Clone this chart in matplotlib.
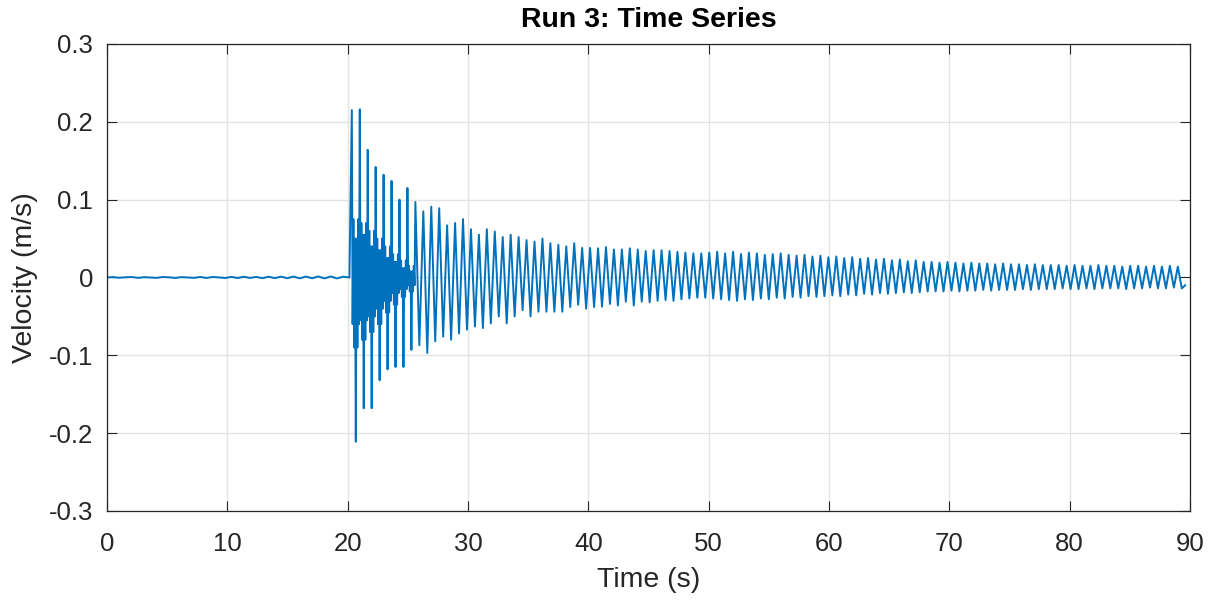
import numpy as np
import matplotlib
matplotlib.use("Agg")
import matplotlib.pyplot as plt

plt.rcParams['font.family'] = ['Liberation Sans', 'DejaVu Sans']
plt.rcParams['axes.unicode_minus'] = False

# quiet record before the hit (m/s), evenly spaced from 0 s to pre_end
pre_end = 20.15
pre_v = [0.0000, 0.0005, -0.0004, 0.0003, 0.0006, -0.0005, 0.0004, 0.0000, -0.0005, 0.0006,
         0.0002, -0.0006, 0.0005, 0.0000, -0.0005, 0.0007, -0.0006, 0.0006, 0.0001, -0.0007,
         0.0008, -0.0007, 0.0009, -0.0006, 0.0008, -0.0009, 0.0010, -0.0008, 0.0011, -0.0010,
         0.0012, -0.0011, 0.0012, -0.0010, 0.0013, -0.0012, 0.0013, -0.0012, 0.0010, 0.0000]

# ringing after the hit: one upper and one lower peak per cycle
t_first = 20.35
period = 0.66
peak_hi = [0.215, 0.216, 0.164, 0.142, 0.132, 0.124, 0.100, 0.115, 0.097, 0.085,
           0.091, 0.089, 0.067, 0.070, 0.075, 0.062, 0.055, 0.062, 0.059, 0.052,
           0.055, 0.052, 0.048, 0.046, 0.050, 0.044, 0.042, 0.040, 0.044, 0.038,
           0.038,
           0.0375, 0.039, 0.036, 0.036, 0.0375, 0.036, 0.034, 0.035, 0.035, 0.034,
           0.033, 0.032, 0.031, 0.031, 0.032, 0.033,
           0.031, 0.033, 0.030, 0.032, 0.031, 0.029, 0.030, 0.031, 0.029, 0.028,
           0.029, 0.027, 0.028, 0.026, 0.027, 0.025, 0.026, 0.024, 0.025, 0.023,
           0.024, 0.022, 0.023, 0.021, 0.022, 0.020,
           0.020, 0.019, 0.020, 0.019, 0.018, 0.019, 0.018, 0.018, 0.017, 0.018,
           0.017, 0.017, 0.016, 0.017, 0.016, 0.016, 0.016, 0.015, 0.016, 0.015,
           0.015, 0.016, 0.015, 0.015, 0.014, 0.015, 0.015, 0.014, 0.015, 0.014,
           0.015, 0.014]
peak_lo = [-0.211, -0.168, -0.168, -0.132, -0.118, -0.115, -0.115, -0.093, -0.087, -0.097,
           -0.082, -0.076, -0.080, -0.072, -0.067, -0.063, -0.065, -0.059, -0.050, -0.059,
           -0.050, -0.042, -0.050, -0.044, -0.044, -0.044, -0.044, -0.038, -0.035, -0.040,
           -0.038,
           -0.0375, -0.034, -0.036, -0.031, -0.036, -0.031, -0.032, -0.030, -0.029, -0.030,
           -0.028, -0.027, -0.026, -0.026, -0.027, -0.028,
           -0.029, -0.030, -0.028, -0.029, -0.027, -0.028, -0.026, -0.027, -0.025, -0.026,
           -0.024, -0.025, -0.024, -0.023, -0.024, -0.022, -0.023, -0.021, -0.022, -0.020,
           -0.021, -0.020, -0.019, -0.020, -0.019, -0.018,
           -0.018, -0.018, -0.017, -0.018, -0.017, -0.017, -0.016, -0.017, -0.016, -0.016,
           -0.016, -0.015, -0.016, -0.015, -0.015, -0.015, -0.014, -0.015, -0.015, -0.014,
           -0.015, -0.014, -0.014, -0.014, -0.015, -0.014, -0.014, -0.013, -0.014, -0.014,
           -0.013, -0.014]
# fast band riding on the first cycles (two levels per cycle)
ripple_hi = [0.075, 0.070, 0.060, 0.050, 0.040, 0.030, 0.022, 0.015]
ripple_hi2 = [0.050, 0.055, 0.040, 0.035, 0.025, 0.020, 0.012, 0.008]
ripple_lo = [-0.090, -0.080, -0.070, -0.060, -0.045, -0.035, -0.025, -0.018]
ripple_lo2 = [-0.060, -0.055, -0.050, -0.040, -0.030, -0.020, -0.015, -0.010]
t_end = 89.6
v_end = -0.010

t = list(np.linspace(0, pre_end, len(pre_v)))
v = list(pre_v)
for k, (hi, lo) in enumerate(zip(peak_hi, peak_lo)):
    tk = t_first + k * period
    if k < len(ripple_hi):
        rh, rl = ripple_hi[k], ripple_lo[k]
        rh2, rl2 = ripple_hi2[k], ripple_lo2[k]
        t += list(tk + period * np.arange(10) / 10)
        v += [hi, rl2, rh, rl, rh2, lo, rh2, rl, rh, rl2]
    else:
        t += [tk, tk + period / 2]
        v += [hi, lo]
t.append(t_end)
v.append(v_end)

fig = plt.figure(figsize=(12.18, 6.01), dpi=100)
ax = fig.add_axes([0.0878, 0.1498, 0.8892, 0.777])
ax.plot(t, v, color='#0072BD', lw=1.4, solid_joinstyle='round')

ax.set_xlim(0, 90)
ax.set_ylim(-0.3, 0.3)
ax.set_xticks(np.arange(0, 91, 10))
ax.set_yticks(np.arange(-0.3, 0.31, 0.1))
ax.set_yticklabels(['-0.3', '-0.2', '-0.1', '0', '0.1', '0.2', '0.3'])
ax.grid(True, color='#e3e3e3', lw=1)
ax.set_axisbelow(True)
ax.tick_params(direction='in', length=7, width=0.8, top=True, right=True,
               labelsize=18.5, colors='#262626', pad=10)
ax.tick_params(axis='x', pad=15)
for s in ax.spines.values():
    s.set_color('#262626')
    s.set_linewidth(0.9)

ax.set_xlabel('Time (s)', fontsize=20.5, color='#262626', labelpad=8)
ax.set_ylabel('Velocity (m/s)', fontsize=20.5, color='#262626', labelpad=8)
ax.set_title('Run 3: Time Series', fontsize=20.5, fontweight='bold', pad=12)

fig.savefig('out.png', dpi=100)
